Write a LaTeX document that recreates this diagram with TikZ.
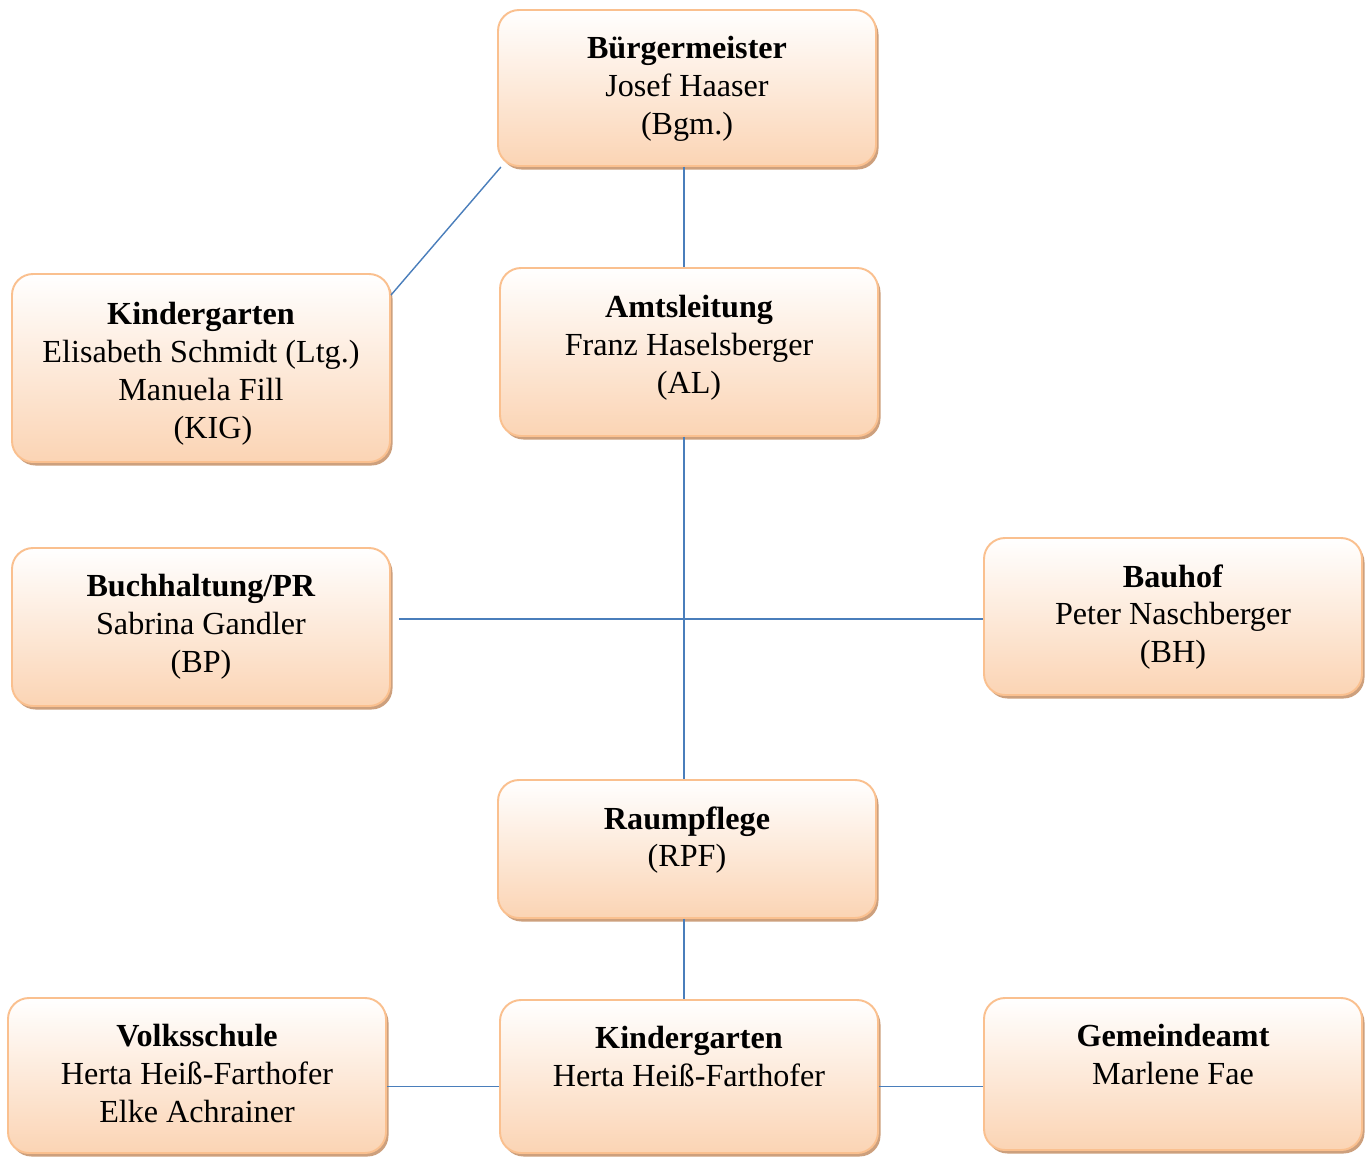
\documentclass[tikz,border=0pt]{standalone}
\usepackage{fontspec}
\setmainfont{Liberation Serif}
\usetikzlibrary{positioning,fit,shadows}
\definecolor{orgborder}{RGB}{250,192,143}
\definecolor{orgpeach}{RGB}{251,212,180}
\definecolor{orgshadow}{RGB}{205,160,125}
\definecolor{orgblue}{RGB}{74,126,187}
\tikzset{orgbox/.style={rounded corners=0.42cm, draw=orgborder, line width=1.1pt,
    top color=white, bottom color=orgpeach, inner sep=0pt,
    drop shadow={shadow xshift=0.05cm, shadow yshift=-0.07cm, fill=orgshadow, opacity=1}}}
\tikzset{orgtext/.style={align=center, inner sep=0pt, font=\fontsize{18.3}{21.5}\selectfont}}
\tikzset{orgline/.style={draw=orgblue, line width=0.8pt}}
\begin{document}
\begin{tikzpicture}[x=0.02cm,y=-0.02cm]
  \useasboundingbox[fill=white] (0,0) rectangle (1372,1160);

  %% boxes
  \node[orgbox, fit={(498,10) (876,166)}] (bgm) {};
  \node[orgbox, fit={(12,274) (390,462)}] (kig) {};
  \node[orgbox, fit={(500,268) (878,436)}] (al) {};
  \node[orgbox, fit={(12,548) (390,706)}] (bp) {};
  \node[orgbox, fit={(984,538) (1362,695)}] (bh) {};
  \node[orgbox, fit={(498,780) (876,918)}] (rpf) {};
  \node[orgbox, fit={(8,998) (386,1153)}] (vs) {};
  \node[orgbox, fit={(500,1000) (878,1153)}] (kigb) {};
  \node[orgbox, fit={(984,998) (1362,1150)}] (ga) {};

  %% texts
  \node[orgtext, below=0.54cm of bgm.north] (bgmtext) {\textbf{Bürgermeister}\\Josef Haaser\\(Bgm.)};
  \node[orgtext, below=0.58cm of kig.north] (kigtext) {\textbf{Kindergarten}\\Elisabeth Schmidt (Ltg.)\\Manuela Fill\\\hspace*{0.48cm}(KIG)};
  \node[orgtext, below=0.56cm of al.north] (altext) {\textbf{Amtsleitung}\\Franz Haselsberger\\(AL)};
  \node[orgtext, below=0.54cm of bp.north] (bptext) {\textbf{Buchhaltung/PR}\\Sabrina Gandler\\(BP)};
  \node[orgtext, below=0.54cm of bh.north] (bhtext) {\textbf{Bauhof}\\Peter Naschberger\\(BH)};
  \node[orgtext, below=0.54cm of rpf.north] (rpftext) {\textbf{Raumpflege}\\(RPF)};
  \node[orgtext, below=0.54cm of vs.north] (vstext) {\textbf{Volksschule}\\Herta Heiß-Farthofer\\Elke Achrainer};
  \node[orgtext, below=0.54cm of kigb.north] (kigbtext) {\textbf{Kindergarten}\\Herta Heiß-Farthofer};
  \node[orgtext, below=0.54cm of ga.north] (gatext) {\textbf{Gemeindeamt}\\Marlene Fae};

  %% connectors
  \draw[orgline] ([xshift=-0.06cm]bgm.south) -- ([xshift=-0.06cm]bgm.south |- al.north);
  \draw[orgline] (bgm.-157) -- (kig.21);
  \draw[orgline] ([xshift=-0.1cm]al.south) -- ([xshift=-0.1cm]al.south |- rpf.north);
  \draw[orgline] ([xshift=0.16cm,yshift=-0.05cm]bp.east |- bh.west) -- ([yshift=-0.05cm]bh.west);
  \draw[orgline] ([xshift=-0.06cm]rpf.south) -- ([xshift=-0.06cm]rpf.south |- kigb.north);
  \draw[orgline] ([yshift=-0.2cm]kigb.west) -- ([yshift=-0.2cm]kigb.west -| vs.east);
  \draw[orgline] ([yshift=-0.2cm]kigb.east) -- ([yshift=-0.2cm]kigb.east -| ga.west);
\end{tikzpicture}
\end{document}
